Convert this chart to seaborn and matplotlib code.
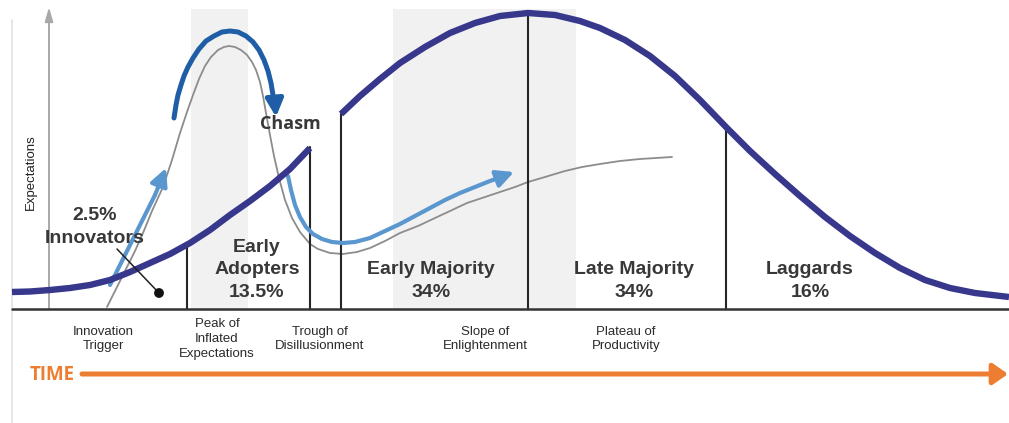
import matplotlib
matplotlib.use("Agg")
import matplotlib.pyplot as plt
import seaborn as sns

sns.set_theme(style="white")
plt.rcParams['font.family'] = ['Liberation Sans', 'DejaVu Sans']

# --- data (pixel-like coordinates, y grows downward) ---
# adoption bell curve, split by the chasm
bell_left_x = [12, 30, 50, 70, 90, 110, 130, 150, 170, 190, 210, 230, 250, 270, 290, 310]
bell_left_y = [292, 291.5, 290, 288, 285, 280, 272, 263, 254, 243, 230, 215, 201, 186, 169, 148]
bell_right_x = [341, 360, 380, 400, 425, 450, 475, 500, 528, 555, 580, 600, 625, 650, 675, 700, 726,
                750, 775, 800, 825, 850, 875, 900, 925, 950, 975, 1009]
bell_right_y = [114, 96, 79, 63, 47, 33, 23, 16, 13, 15, 21, 28, 40, 56, 76, 100, 127,
                151, 174, 196, 217, 236, 253, 268, 280, 288, 293, 297]

# hype cycle curve
hype_x = [107, 117, 127, 135, 143, 152, 163, 172, 180, 187, 193, 199, 205, 211, 218, 224, 229, 235, 241,
          247, 252, 256, 260, 263, 266, 270, 274, 279, 285, 292, 300, 310, 318, 330, 343, 357, 370, 385,
          400, 418, 435, 450, 467, 485, 500, 515, 528, 545, 565, 582, 600, 620, 640, 656, 672]
hype_y = [307, 287, 267, 251, 233, 211, 187, 160, 133, 112, 95, 79, 66, 57, 50, 47, 46, 47, 50,
          55, 62, 70, 82, 96, 113, 135, 156, 178, 200, 218, 232, 244, 249, 253, 254, 252, 248, 241,
          233, 226, 218, 211, 203, 197, 192, 187, 182, 177, 171, 167, 164, 161, 159, 158, 157]

# arrows
peak_arrow_x = [174, 176, 178, 181, 184, 188, 193, 199, 206, 214, 222, 230, 238, 246, 253, 259, 264,
                268, 271, 273, 275, 276]
peak_arrow_y = [118, 105, 95, 85, 76, 67, 58, 49, 41, 36, 32, 31, 32, 36, 42, 50, 60,
                71, 83, 95, 104, 117]
trigger_arrow_x = [110, 155, 166]
trigger_arrow_y = [285, 195, 168]
slope_arrow_x = [288, 291, 295, 300, 306, 313, 322, 332, 343, 355, 370, 385, 400, 415, 430, 445, 460,
                 475, 490, 501, 514]
slope_arrow_y = [176, 190, 205, 217, 227, 234, 239, 242, 243, 242, 238, 231, 224, 216, 208, 200, 193,
                 187, 181, 177, 172]

# segment dividers
divider_x = [187, 310, 341, 528, 726]
divider_top = [245, 147, 114, 13, 128]

# shaded phase bands
band_left = [191, 393]
band_right = [248, 576]

# adopter group labels
group_lines = [["2.5%", "Innovators"], ["Early", "Adopters", "13.5%"], ["Early Majority", "34%"],
               ["Late Majority", "34%"], ["Laggards", "16%"]]
group_x = [95, 257, 431, 634, 810]
group_y = [227, 270, 281, 281, 281]

# hype cycle phases
phase_labels = ["Innovation\nTrigger", "Peak of\nInflated\nExpectations", "Trough of\nDisillusionment",
                "Slope of\nEnlightenment", "Plateau of\nProductivity"]
phase_x = [103, 217, 320, 485, 626]
phase_y = [339, 339, 339, 339, 339]

navy = "#37378c"
dark_blue = "#1f5ea6"
light_blue = "#5b97cf"
grey = "#8c8c8c"
orange = "#ed7d31"
ink = "#383838"

fig = plt.figure(figsize=(10.09, 4.23), dpi=100)
ax = fig.add_axes([0, 0, 1, 1])
ax.set_xlim(0, 1009)
ax.set_ylim(423, 0)
ax.axis("off")

for l, r in zip(band_left, band_right):
    ax.fill_between([l, r], 9, 309, color="#f1f1f1", lw=0, zorder=0)

# faint frame and expectations axis
ax.plot([12, 12], [20, 423], color="#e2e2e2", lw=1.2, zorder=1)
ax.annotate("", xy=(49, 7), xytext=(49, 309),
            arrowprops=dict(arrowstyle="-|>,head_width=0.2,head_length=0.7", color="#a8a8a8", lw=1.4,
                            shrinkA=0, shrinkB=0), zorder=1)
ax.text(31, 172, "Expectations", rotation=90, ha="center", va="center", fontsize=9.5, color="#222222")

# hype curve
sns.lineplot(x=hype_x, y=hype_y, sort=False, estimator=None, color=grey, linewidth=1.3, ax=ax, zorder=2)

# dividers
for x, top in zip(divider_x, divider_top):
    ax.plot([x, x], [top, 309], color="#262626", lw=1.5, zorder=3)
ax.plot([12, 1009], [309, 309], color="#333333", lw=1.8, zorder=3)

# arrows along the hype curve
for ax_x, ax_y, col, lw in [(peak_arrow_x, peak_arrow_y, dark_blue, 3.6),
                            (trigger_arrow_x, trigger_arrow_y, light_blue, 3),
                            (slope_arrow_x, slope_arrow_y, light_blue, 3)]:
    sns.lineplot(x=ax_x[:-1], y=ax_y[:-1], sort=False, estimator=None, color=col, linewidth=lw, ax=ax,
                 zorder=4, solid_joinstyle="round")
    ax.annotate("", xy=(ax_x[-1], ax_y[-1]), xytext=(ax_x[-2], ax_y[-2]),
                arrowprops=dict(arrowstyle="-|>,head_width=0.4,head_length=0.8", color=col, lw=lw,
                                mutation_scale=13, shrinkA=0, shrinkB=0), zorder=4)

# bell curve
for bx, by in [(bell_left_x, bell_left_y), (bell_right_x, bell_right_y)]:
    sns.lineplot(x=bx, y=by, sort=False, estimator=None, color=navy, linewidth=4.6, ax=ax, zorder=5,
                 solid_capstyle="butt", solid_joinstyle="round")

# innovators pointer
ax.plot([117, 159], [249, 293], color="#222222", lw=1.1, zorder=6)
sns.scatterplot(x=[159], y=[293], s=50, color="#111111", edgecolor="none", ax=ax, zorder=6)

# group labels
for lines, x, y in zip(group_lines, group_x, group_y):
    ax.text(x, y, "\n".join(lines), ha="center", va="center", fontsize=14, fontweight="bold",
            color=ink, linespacing=1.45, zorder=7)

ax.text(290, 124, "Chasm", ha="center", va="center", fontsize=13, fontweight="bold", color=ink,
        family=["Open Sans", "DejaVu Sans"], zorder=7)

for lab, x, y in zip(phase_labels, phase_x, phase_y):
    ax.text(x, y, lab, ha="center", va="center", fontsize=9.5, color="#2a2a2a", linespacing=1.3)

# time arrow
ax.text(52, 375, "TIME", ha="center", va="center", fontsize=13.5, fontweight="bold", color=orange,
        family=["Open Sans", "DejaVu Sans"])
ax.annotate("", xy=(1008, 374), xytext=(82, 374),
            arrowprops=dict(arrowstyle="-|>,head_width=0.35,head_length=0.5", color=orange, lw=3.6,
                            mutation_scale=18, shrinkA=0, shrinkB=0))

fig.savefig("out.png", dpi=100)
